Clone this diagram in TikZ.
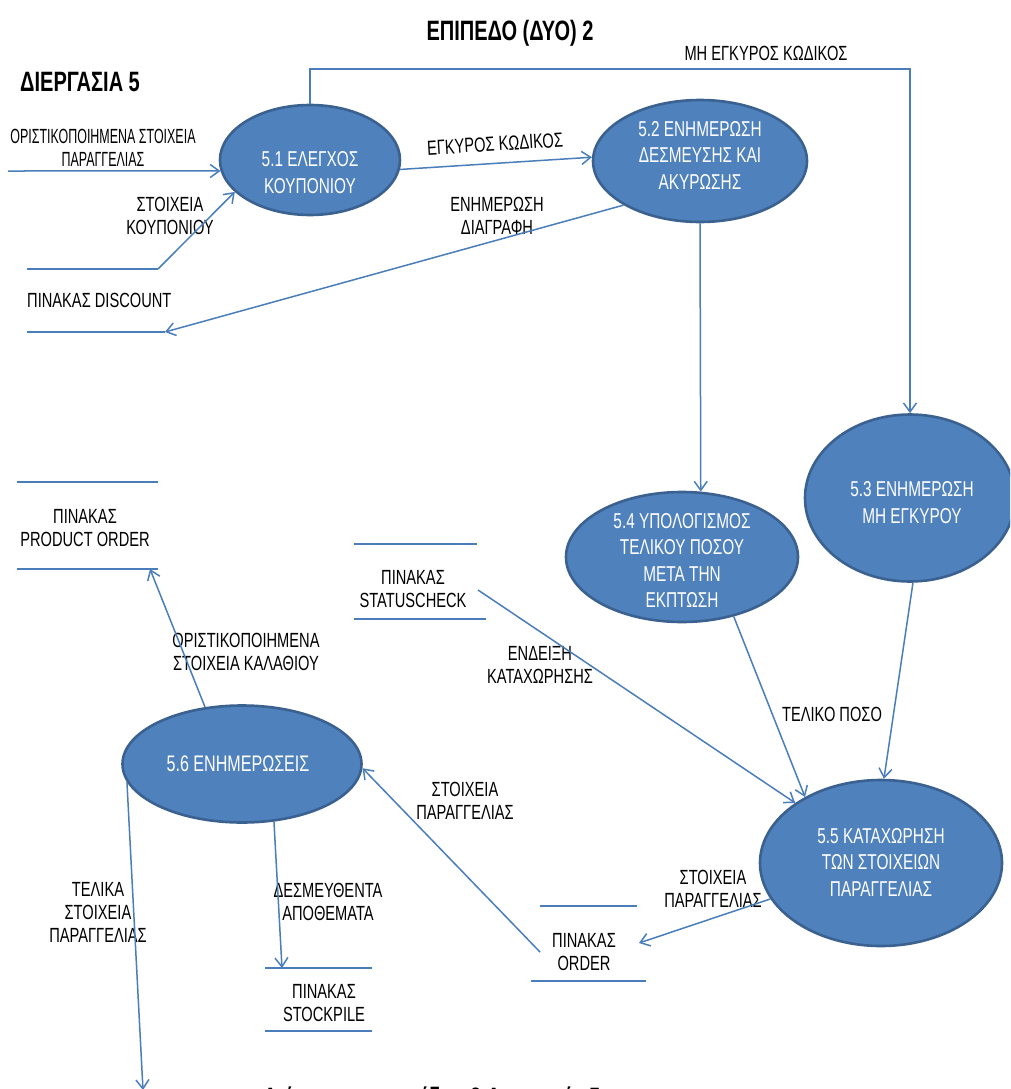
\documentclass[tikz,border=0pt]{standalone}
\usepackage{graphicx}
\usepackage{fontspec}
\setmainfont{Liberation Sans}[FakeStretch=0.715]
\usetikzlibrary{shapes.geometric,arrows.meta}
\definecolor{procfill}{HTML}{4F81BD}
\definecolor{procrim}{HTML}{3A6190}
\definecolor{flowblue}{HTML}{4A7EBB}
\begin{document}
\begin{tikzpicture}[x=1pt,y=-1pt,
  proc/.style={ellipse, draw=procrim, line width=2.6pt, fill=procfill, inner sep=0pt},
  proctext/.style={text=white, align=center, inner sep=0pt, font=\fontsize{21.5}{26.5}\selectfont},
  lbl/.style={align=center, inner sep=0pt, font=\fontsize{20.5}{23}\selectfont},
  heading/.style={inner sep=0pt, font=\fontsize{28}{30}\selectfont\bfseries},
  store/.style={draw=flowblue, line width=2.2pt},
  flow/.style={draw=flowblue, line width=1.5pt, -{Straight Barb[length=9pt,width=13pt]}},
]
\useasboundingbox (0,0) rectangle (1010,1089);
\fill[white] (0,0) rectangle (1010,1089);
\clip (0,0) rectangle (1010,1089);

% headings and caption (the caption runs past the lower edge)
\node[heading, anchor=base] (hLevel) at (510,41) {ΕΠΙΠΕΔΟ (ΔΥΟ) 2};
\node[heading, anchor=base west] (hProc) at (20,92) {ΔΙΕΡΓΑΣΙΑ 5};
\node[heading, anchor=base west] (hCap) at (263,1107) {Διάγραμμα επιπέδου 2 Διεργασία 5};

% processes
\node[proc, minimum width=180, minimum height=110] (p51) at (310,160) {};
\node[proc, minimum width=214, minimum height=122] (p52) at (700,161) {};
\node[proc, minimum width=210, minimum height=167] (p53) at (910,498) {};
\node[proc, minimum width=232, minimum height=130] (p54) at (682,557) {};
\node[proc, minimum width=242, minimum height=166] (p55) at (881,863) {};
\node[proc, minimum width=239, minimum height=117] (p56) at (242,764) {};

\node[proctext] (t51) at (310,172.5) {5.1 ΕΛΕΓΧΟΣ\\ΚΟΥΠΟΝΙΟΥ};
\node[proctext] (t52) at (700,155) {5.2 ΕΝΗΜΕΡΩΣΗ\\ΔΕΣΜΕΥΣΗΣ ΚΑΙ\\ΑΚΥΡΩΣΗΣ};
\node[proctext] (t53) at (912,502.5) {5.3 ΕΝΗΜΕΡΩΣΗ\\ΜΗ ΕΓΚΥΡΟΥ};
\node[proctext] (t54) at (682,560.5) {5.4 ΥΠΟΛΟΓΙΣΜΟΣ\\ΤΕΛΙΚΟΥ ΠΟΣΟΥ\\ΜΕΤΑ ΤΗΝ\\ΕΚΠΤΩΣΗ};
\node[proctext] (t55) at (881,862) {5.5 ΚΑΤΑΧΩΡΗΣΗ\\ΤΩΝ ΣΤΟΙΧΕΙΩΝ\\ΠΑΡΑΓΓΕΛΙΑΣ};
\node[proctext, font=\fontsize{22.5}{26}\selectfont] (t56) at (238,764) {5.6 ΕΝΗΜΕΡΩΣΕΙΣ};

% data stores
\coordinate (discTop) at (158,269);
\coordinate (discBot) at (165,332);
\draw[store] (27,269) -- (discTop);
\draw[store] (27,332) -- (discBot);
\node[lbl, anchor=west] (sDisc) at (27,300) {ΠΙΝΑΚΑΣ DISCOUNT};

\coordinate (prodBot) at (150,569);
\draw[store] (17,482) -- (158,482);
\draw[store] (17,569) -- (158,569);
\node[lbl] (sProd) at (85,528) {ΠΙΝΑΚΑΣ\\PRODUCT ORDER};

\coordinate (statOut) at (478,590);
\draw[store] (354,544) -- (477,544);
\draw[store] (354,619) -- (486,619);
\node[lbl] (sStat) at (413,589) {ΠΙΝΑΚΑΣ\\STATUSCHECK};

\coordinate (ordIn) at (639,943);
\coordinate (ordOut) at (540,952);
\draw[store] (540,906) -- (637,906);
\draw[store] (531,981) -- (646,981);
\node[lbl] (sOrd) at (584,952) {ΠΙΝΑΚΑΣ\\ORDER};

\coordinate (stockIn) at (282,968);
\draw[store] (265,968) -- (372,968);
\draw[store] (265,1031) -- (372,1031);
\node[lbl] (sStock) at (324,1003) {ΠΙΝΑΚΑΣ\\STOCKPILE};

% flow labels
\node[lbl] (lOrder) at (103,147.5) {\scalebox{0.85}[1]{ΟΡΙΣΤΙΚΟΠΟΙΗΜΕΝΑ ΣΤΟΙΧΕΙΑ}\\\scalebox{0.85}[1]{ΠΑΡΑΓΓΕΛΙΑΣ}};
\node[lbl] (lCoupon) at (170,215.5) {ΣΤΟΙΧΕΙΑ\\ΚΟΥΠΟΝΙΟΥ};
\node[lbl, rotate=3.5] (lValid) at (495,144) {ΕΓΚΥΡΟΣ ΚΩΔΙΚΟΣ};
\node[lbl] (lDelete) at (497,215.5) {ΕΝΗΜΕΡΩΣΗ\\ΔΙΑΓΡΑΦΗ};
\node[lbl] (lInvalid) at (766,53) {ΜΗ ΕΓΚΥΡΟΣ ΚΩΔΙΚΟΣ};
\node[lbl] (lBasket) at (246,652) {ΟΡΙΣΤΙΚΟΠΟΙΗΜΕΝΑ\\ΣΤΟΙΧΕΙΑ ΚΑΛΑΘΙΟΥ};
\node[lbl] (lMark) at (540,665) {ΕΝΔΕΙΞΗ\\ΚΑΤΑΧΩΡΗΣΗΣ};
\node[lbl] (lTotal) at (832,714) {ΤΕΛΙΚΟ ΠΟΣΟ};
\node[lbl] (lOrd56) at (465,801) {ΣΤΟΙΧΕΙΑ\\ΠΑΡΑΓΓΕΛΙΑΣ};
\node[lbl] (lOrd55) at (713,889) {ΣΤΟΙΧΕΙΑ\\ΠΑΡΑΓΓΕΛΙΑΣ};
\node[lbl] (lStock) at (328,901.5) {ΔΕΣΜΕΥΘΕΝΤΑ\\ΑΠΟΘΕΜΑΤΑ};
\node[lbl] (lFinal) at (98,912.5) {ΤΕΛΙΚΑ\\ΣΤΟΙΧΕΙΑ\\ΠΑΡΑΓΓΕΛΙΑΣ};

% flows
\coordinate (orderIn) at (8,171);
\coordinate (loopTop) at (610,69);
\coordinate (outBottom) at (143,1090);
\draw[flow] (orderIn) -- (p51.187);
\draw[flow] (discTop) -- (p51.203);
\draw[flow] (p51.-6) -- (p52.178);
\draw[flow] (p52.210) -- (discBot);
\draw[flow] (p52.south) -- (p54.74);
\draw[flow] (p51.north) |- (loopTop) -| (p53.north);
\draw[flow] (p54.-49) -- (p55.139);
\draw[flow] (p53.-88) -- (p55.88);
\draw[flow] (statOut) -- (p55.145);
\draw[flow] (p55.198) -- (ordIn);
\draw[flow] (ordOut) -- (p56.-2);
\draw[flow] (p56.123) -- (prodBot);
\draw[flow] (p56.-61) -- (stockIn);
\draw[flow] (p56.189) -- (outBottom);
\end{tikzpicture}
\end{document}
